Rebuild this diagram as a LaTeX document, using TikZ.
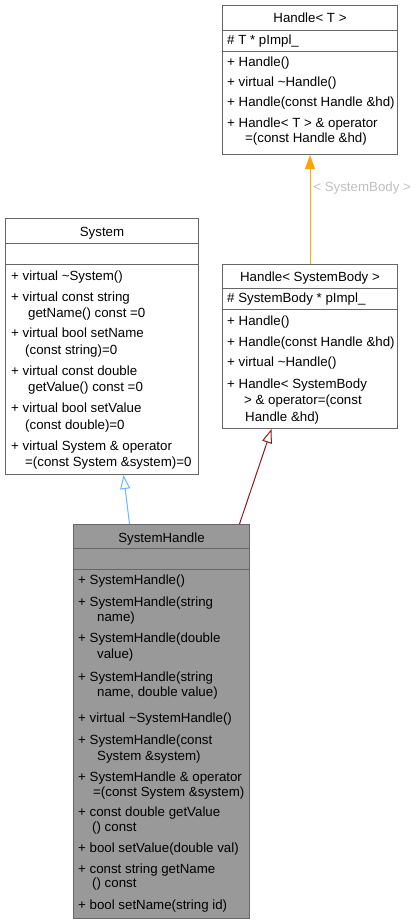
\documentclass[tikz,border=0pt]{standalone}
\usepackage{fontspec}
\setmainfont{Liberation Sans}
\usetikzlibrary{arrows.meta}
\definecolor{boxline}{HTML}{666666}
\definecolor{curfill}{HTML}{999999}
\definecolor{inhblue}{HTML}{63B8FF}
\definecolor{inhred}{HTML}{8B1A1A}
\definecolor{tmplorange}{HTML}{FFA500}
\definecolor{lblgray}{HTML}{BFBFBF}

\begin{document}
\begin{tikzpicture}[x=1pt,y=-1pt,
  font=\fontsize{13.3}{16}\selectfont,
  classbox/.style={draw=boxline,fill=white,line width=1pt,inner sep=0,anchor=north west},
  member/.style={anchor=base west,inner sep=0},
  ctitle/.style={anchor=base,inner sep=0},
  divider/.style={boxline,line width=1pt},
  inherit/.style={line width=1pt,-{Triangle[open,length=14pt,width=10pt]}}]
  \useasboundingbox (0,0) rectangle (418,924);

  % class boxes
  \node[classbox,minimum width=175pt,minimum height=149pt] (ht) at (222,5) {};
  \node[classbox,minimum width=175pt,minimum height=164pt] (hsb) at (222,264) {};
  \node[classbox,minimum width=193pt,minimum height=256pt] (sys) at (5,218) {};
  \node[classbox,fill=curfill,minimum width=176pt,minimum height=394pt] (sh) at (73,524) {};

  \foreach \b/\y in {ht/30, ht/51, hsb/288, hsb/309, sys/243, sys/264, sh/548, sh/569}
    \draw[divider] (\b.west |- 0,\y) -- (\b.east |- 0,\y);

  % titles
  \node[ctitle] (ht-t) at (ht.north |- 0,22) {Handle< T >};
  \node[ctitle] (hsb-t) at (hsb.north |- 0,281) {Handle< SystemBody >};
  \node[ctitle] (sys-t) at (sys.north |- 0,236) {System};
  \node[ctitle] (sh-t) at (sh.north |- 0,542) {SystemHandle};

  % members
  \foreach \x/\y/\t [count=\i] in {227/44/{\# T * pImpl\_}, 227/66/{+ Handle()},
      227/86/{+ virtual \textasciitilde Handle()}, 227/106/{+ Handle(const Handle \&hd)},
      227/127/{+ Handle< T > \& operator}, 245/142/{=(const Handle \&hd)}}
    \node[member] (ht-m\i) at (\x,\y) {\t};

  \foreach \x/\y/\t [count=\i] in {227/302/{\# SystemBody * pImpl\_}, 227/325/{+ Handle()},
      227/346/{+ Handle(const Handle \&hd)}, 227/366/{+ virtual \textasciitilde Handle()},
      227/388/{+ Handle< SystemBody}, 244/404/{> \& operator=(const},
      245/421/{Handle \&hd)}}
    \node[member] (hsb-m\i) at (\x,\y) {\t};

  \foreach \x/\y/\t [count=\i] in {11/280/{+ virtual \textasciitilde System()},
      11/301/{+ virtual const string}, 28/317/{getName() const =0},
      11/337/{+ virtual bool setName}, 25/354/{(const string)=0},
      11/375/{+ virtual const double}, 28/391/{getValue() const =0},
      11/412/{+ virtual bool setValue}, 25/429/{(const double)=0},
      11/450/{+ virtual System \& operator}, 25/466/{=(const System \&system)=0}}
    \node[member] (sys-m\i) at (\x,\y) {\t};

  \foreach \x/\y/\t [count=\i] in {78/584/{+ SystemHandle()},
      78/606/{+ SystemHandle(string}, 97/621/{name)},
      78/642/{+ SystemHandle(double}, 97/658/{value)},
      78/681/{+ SystemHandle(string}, 97/696/{name, double value)},
      78/722/{+ virtual \textasciitilde SystemHandle()},
      78/744/{+ SystemHandle(const}, 97/760/{System \&system)},
      78/781/{+ SystemHandle \& operator}, 93/796/{=(const System \&system)},
      78/816/{+ const double getValue}, 92/831/{() const},
      78/852/{+ bool setValue(double val)},
      78/873/{+ const string getName}, 92/887/{() const},
      78/909/{+ bool setName(string id)}}
    \node[member] (sh-m\i) at (\x,\y) {\t};

  % relations
  \draw[tmplorange,line width=1pt,-{Triangle[length=14pt,width=10pt]}] (hsb.north) -- (ht.south)
    node[pos=0.7,anchor=west,xshift=-0.5pt,text=lblgray] (tmpl-lbl) {< SystemBody >};
  \draw[inherit,inhblue] ([xshift=-32pt]sh.north) -- ([xshift=21.5pt]sys.south);
  \draw[inherit,inhred] ([xshift=78pt]sh.north) -- ([xshift=-38.5pt]hsb.south);
\end{tikzpicture}
\end{document}
